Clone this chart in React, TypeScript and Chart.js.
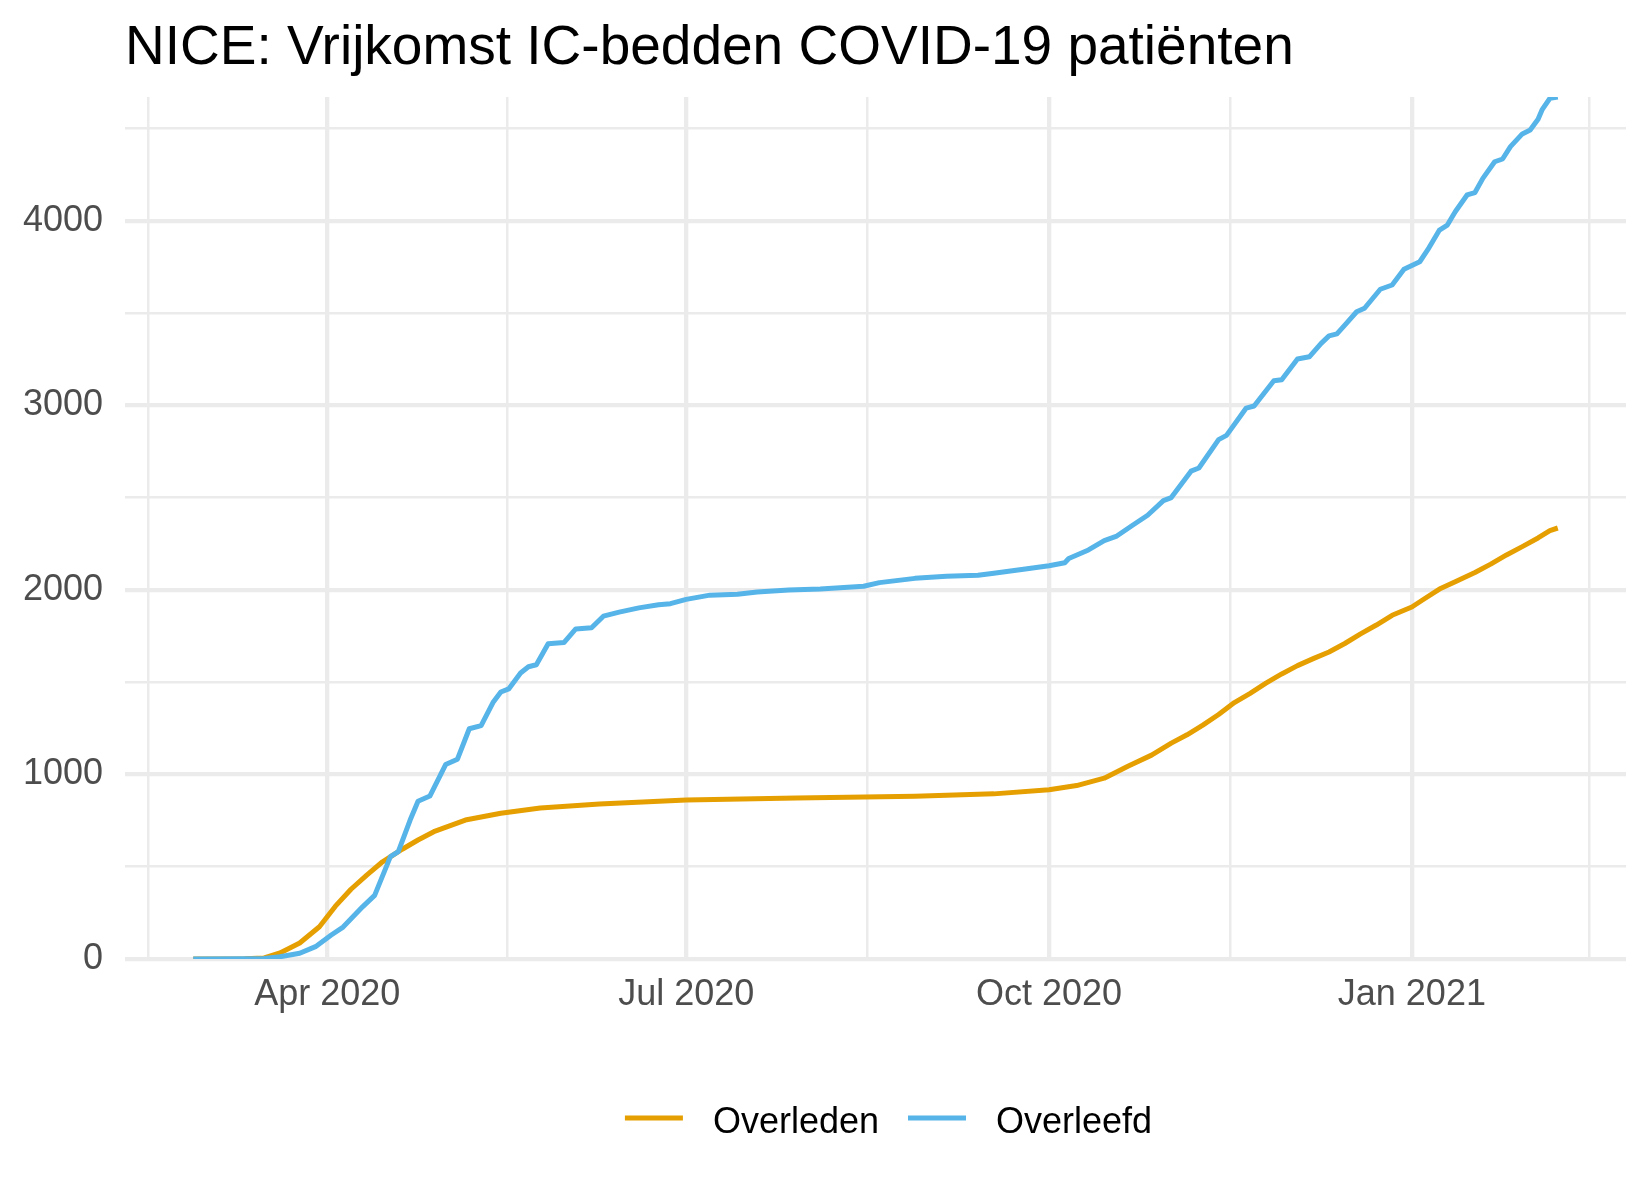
import React, { useEffect, useRef } from "react";
import { Chart, registerables } from "chart.js";

Chart.register(...registerables);

const TITLE = "NICE: Vrijkomst IC-bedden COVID-19 patiënten";
const SERIES_NAMES = ["Overleden", "Overleefd"];
const SERIES_COLORS = ["#E69F00", "#56B4E9"];

const overledenDates = [
  "2020-02-27", "2020-03-11", "2020-03-16", "2020-03-20", "2020-03-25", "2020-03-30",
  "2020-04-03", "2020-04-07", "2020-04-11", "2020-04-15", "2020-04-20", "2020-04-24",
  "2020-04-28", "2020-05-06", "2020-05-15", "2020-05-25", "2020-06-09", "2020-07-01",
  "2020-07-29", "2020-08-28", "2020-09-17", "2020-10-01", "2020-10-08", "2020-10-15",
  "2020-10-21", "2020-10-27", "2020-11-01", "2020-11-05", "2020-11-09", "2020-11-13",
  "2020-11-17", "2020-11-21", "2020-11-25", "2020-11-29", "2020-12-03", "2020-12-07",
  "2020-12-11", "2020-12-15", "2020-12-19", "2020-12-23", "2020-12-27", "2021-01-01",
  "2021-01-04", "2021-01-08", "2021-01-12", "2021-01-17", "2021-01-21", "2021-01-25",
  "2021-01-29", "2021-02-02", "2021-02-05", "2021-02-07",
];
const overledenValues = [
  0, 1, 6, 33, 87, 175,
  285, 378, 455, 527, 595, 645,
  690, 753, 790, 818, 840, 862,
  872, 882, 895, 917, 940, 980,
  1045, 1105, 1170, 1215, 1268, 1325,
  1390, 1440, 1495, 1545, 1590, 1628,
  1664, 1710, 1762, 1810, 1863, 1908,
  1950, 2005, 2045, 2095, 2140, 2190,
  2235, 2282, 2322, 2336,
];

const overleefdDates = [
  "2020-02-27", "2020-03-11", "2020-03-16", "2020-03-20", "2020-03-25", "2020-03-29",
  "2020-04-02", "2020-04-05", "2020-04-10", "2020-04-13", "2020-04-17", "2020-04-19",
  "2020-04-22", "2020-04-24", "2020-04-27", "2020-05-01", "2020-05-04", "2020-05-07",
  "2020-05-10", "2020-05-13", "2020-05-15", "2020-05-17", "2020-05-20", "2020-05-22",
  "2020-05-24", "2020-05-27", "2020-05-31", "2020-06-03", "2020-06-07", "2020-06-10",
  "2020-06-14", "2020-06-19", "2020-06-24", "2020-06-27", "2020-07-01", "2020-07-07",
  "2020-07-14", "2020-07-19", "2020-07-27", "2020-08-04", "2020-08-15", "2020-08-19",
  "2020-08-28", "2020-09-05", "2020-09-13", "2020-09-17", "2020-09-25", "2020-10-01",
  "2020-10-05", "2020-10-06", "2020-10-11", "2020-10-15", "2020-10-18", "2020-10-22",
  "2020-10-26", "2020-10-30", "2020-11-01", "2020-11-06", "2020-11-08", "2020-11-13",
  "2020-11-15", "2020-11-20", "2020-11-22", "2020-11-27", "2020-11-29", "2020-12-03",
  "2020-12-06", "2020-12-09", "2020-12-11", "2020-12-13", "2020-12-15", "2020-12-18",
  "2020-12-20", "2020-12-24", "2020-12-27", "2020-12-30", "2021-01-03", "2021-01-05",
  "2021-01-08", "2021-01-10", "2021-01-12", "2021-01-15", "2021-01-17", "2021-01-19",
  "2021-01-22", "2021-01-24", "2021-01-26", "2021-01-29", "2021-01-31", "2021-02-02",
  "2021-02-03", "2021-02-05", "2021-02-07",
];
const overleefdValues = [
  0, 1, 3, 12, 31, 67,
  130, 173, 284, 345, 555, 582,
  753, 855, 883, 1054, 1083, 1248,
  1265, 1390, 1447, 1464, 1550, 1584,
  1595, 1709, 1715, 1789, 1795, 1858,
  1880, 1903, 1920, 1926, 1949, 1972,
  1977, 1989, 2000, 2006, 2020, 2040,
  2063, 2074, 2080, 2091, 2114, 2131,
  2148, 2171, 2217, 2268, 2290, 2348,
  2405, 2484, 2501, 2644, 2661, 2815,
  2838, 2986, 2997, 3134, 3140, 3252,
  3264, 3337, 3377, 3388, 3436, 3508,
  3527, 3630, 3653, 3738, 3779, 3843,
  3951, 3978, 4050, 4141, 4154, 4231,
  4321, 4336, 4403, 4472, 4493, 4551,
  4602, 4665, 4672,
];

// x breaks (ggplot-style: majors every quarter, minors at midpoints)
const xBreakDates = ["2020-01-01", "2020-04-01", "2020-07-01", "2020-10-01", "2021-01-01", "2021-04-01"];
const xBreakLabels = ["Jan 2020", "Apr 2020", "Jul 2020", "Oct 2020", "Jan 2021", "Apr 2021"];
const yMajorTicks = [0, 1000, 2000, 3000, 4000];
const yMinorStep = 500;

const FONT = "'Liberation Sans', Arial, Helvetica, sans-serif";
const EPOCH = Date.parse("2020-01-01T00:00:00Z");
const dayNum = (s: string) => (Date.parse(s + "T00:00:00Z") - EPOCH) / 86400000;

export default function App() {
  const canvasRef = useRef<HTMLCanvasElement | null>(null);

  useEffect(() => {
    const canvas = canvasRef.current;
    if (!canvas) return;

    const allDays = [...overledenDates, ...overleefdDates].map(dayNum);
    const dMin = Math.min(...allDays);
    const dMax = Math.max(...allDays);
    const pad = (dMax - dMin) * 0.05;
    const xMin = dMin - pad;
    const xMax = dMax + pad;
    const yMax = Math.max(...overledenValues, ...overleefdValues);

    const majorDays = xBreakDates.map(dayNum);
    const minorDays: number[] = [];
    for (let i = 0; i < majorDays.length - 1; i++) minorDays.push((majorDays[i] + majorDays[i + 1]) / 2);
    const xTickList = [...majorDays, ...minorDays].filter((v) => v >= xMin && v <= xMax).sort((a, b) => a - b);
    const xLabelFor = (v: number) => {
      const i = majorDays.findIndex((m) => Math.abs(m - v) < 1e-6);
      return i >= 0 ? xBreakLabels[i] : "";
    };
    const yTickList: number[] = [];
    for (let v = 0; v <= yMax; v += yMinorStep) yTickList.push(v);

    const legendPlugin = {
      id: "ggLegend",
      afterDraw(chart: any) {
        const ctx = chart.ctx as CanvasRenderingContext2D;
        const area = chart.chartArea;
        ctx.save();
        ctx.font = `36px ${FONT}`;
        const keyLen = 58;
        const keyGap = 30;
        const itemGap = 29;
        const widths = SERIES_NAMES.map((n) => ctx.measureText(n).width);
        let total = 0;
        widths.forEach((w, i) => {
          total += keyLen + keyGap + w + (i < widths.length - 1 ? itemGap : 0);
        });
        const center = (area.left + area.right) / 2 + 13;
        let x = center - total / 2;
        const yLine = 1118;
        SERIES_NAMES.forEach((name, i) => {
          ctx.strokeStyle = SERIES_COLORS[i];
          ctx.lineWidth = 5;
          ctx.lineCap = "butt";
          ctx.beginPath();
          ctx.moveTo(x, yLine);
          ctx.lineTo(x + keyLen, yLine);
          ctx.stroke();
          x += keyLen + keyGap;
          ctx.fillStyle = "#000000";
          ctx.textAlign = "left";
          ctx.textBaseline = "alphabetic";
          ctx.fillText(name, x, 1133);
          x += widths[i] + itemGap;
        });
        ctx.restore();
      },
    };

    const mk = (dates: string[], values: number[]) =>
      dates.map((d, i) => ({ x: dayNum(d), y: values[i] }));

    const chart = new Chart(canvas, {
      type: "line",
      data: {
        datasets: [
          {
            label: SERIES_NAMES[0],
            data: mk(overledenDates, overledenValues),
            borderColor: SERIES_COLORS[0],
            backgroundColor: SERIES_COLORS[0],
            borderWidth: 5,
            pointRadius: 0,
            tension: 0,
            fill: false,
            borderJoinStyle: "round",
            order: 1,
          },
          {
            label: SERIES_NAMES[1],
            data: mk(overleefdDates, overleefdValues),
            borderColor: SERIES_COLORS[1],
            backgroundColor: SERIES_COLORS[1],
            borderWidth: 5,
            pointRadius: 0,
            tension: 0,
            fill: false,
            borderJoinStyle: "round",
            order: 0,
          },
        ],
      },
      options: {
        responsive: false,
        animation: false,
        devicePixelRatio: 1,
        layout: { padding: { left: 0, right: 24, top: 0, bottom: 181 } },
        plugins: {
          legend: { display: false },
          tooltip: { enabled: false },
          title: {
            display: true,
            text: TITLE,
            align: "start",
            fullSize: false,
            color: "#000000",
            font: { family: FONT, size: 55, weight: "normal", lineHeight: 1.2 },
            padding: { top: 16, bottom: 15 },
          },
        },
        scales: {
          x: {
            type: "linear",
            min: xMin,
            max: xMax,
            afterBuildTicks: (scale: any) => {
              scale.ticks = xTickList.map((v) => ({ value: v }));
            },
            afterFit: (scale: any) => {
              scale.height = 60;
            },
            border: { display: false },
            grid: {
              color: "#EBEBEB",
              drawTicks: false,
              lineWidth: (c: any) => (xLabelFor(c.tick?.value) ? 4.3 : 2.5),
            },
            ticks: {
              autoSkip: false,
              maxRotation: 0,
              minRotation: 0,
              padding: 14,
              color: "#4D4D4D",
              font: { family: FONT, size: 36 },
              callback: (v: any) => xLabelFor(Number(v)),
            },
          },
          y: {
            type: "linear",
            min: 0,
            max: yMax,
            afterBuildTicks: (scale: any) => {
              scale.ticks = yTickList.map((v) => ({ value: v }));
            },
            afterFit: (scale: any) => {
              scale.width = 125;
            },
            border: { display: false },
            grid: {
              color: "#EBEBEB",
              drawTicks: false,
              lineWidth: (c: any) => (yMajorTicks.includes(c.tick?.value) ? 4.3 : 2.5),
            },
            ticks: {
              autoSkip: false,
              padding: 22,
              color: "#4D4D4D",
              font: { family: FONT, size: 36 },
              callback: (v: any) => (yMajorTicks.includes(Number(v)) ? String(v) : ""),
            },
          },
        },
      },
      plugins: [legendPlugin],
    } as any);

    return () => chart.destroy();
  }, []);

  return (
    <div style={{ position: "absolute", left: 0, top: 0, width: 1650, height: 1200, background: "#ffffff" }}>
      <canvas ref={canvasRef} width={1650} height={1200} style={{ width: 1650, height: 1200 }} />
    </div>
  );
}
